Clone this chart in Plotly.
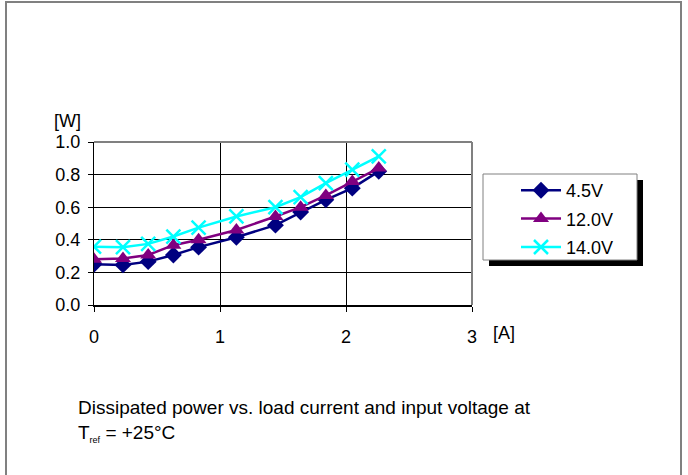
import plotly.graph_objects as go

W, H = 688, 475

current_a = [0, 0.23, 0.43, 0.63, 0.83, 1.13, 1.44, 1.64, 1.84, 2.05, 2.26]
p_4v5 = [0.25, 0.246, 0.266, 0.307, 0.355, 0.416, 0.49, 0.57, 0.645, 0.717, 0.82]
p_12v = [0.28, 0.285, 0.307, 0.367, 0.40, 0.46, 0.543, 0.60, 0.672, 0.758, 0.84]
p_14v = [0.358, 0.355, 0.375, 0.42, 0.475, 0.543, 0.60, 0.662, 0.748, 0.83, 0.912]
series_names = ["4.5V", "12.0V", "14.0V"]
x_ticks = [0, 1, 2, 3]
y_ticks = [0.0, 0.2, 0.4, 0.6, 0.8, 1.0]

FONT = "Liberation Sans, Arial, Helvetica, sans-serif"

def px(x):
    return x / W

def py(y):
    return 1 - y / H

fig = go.Figure()
fig.add_trace(go.Scatter(x=current_a, y=p_4v5, name=series_names[0], mode="lines+markers",
                         legendgroup="g1",
                         line=dict(color="#000080", width=2.5),
                         marker=dict(symbol="diamond", size=13, color="#000080")))
fig.add_trace(go.Scatter(x=current_a, y=p_12v, name=series_names[1], mode="lines+markers",
                         legendgroup="g2",
                         line=dict(color="#800080", width=2.5),
                         marker=dict(symbol="triangle-up", size=14, color="#800080")))
fig.add_trace(go.Scatter(x=current_a, y=p_14v, name=series_names[2], mode="lines+markers",
                         legendgroup="g3",
                         line=dict(color="#00FFFF", width=2.5),
                         marker=dict(symbol="x-thin", size=14, color="#00FFFF",
                                     line=dict(color="#00FFFF", width=2.5))))

x0p, x1p = 94, 472
y0p, y1p = 305, 142

fig.update_layout(
    width=W, height=H, autosize=False,
    margin=dict(l=0, r=0, t=0, b=0, autoexpand=False),
    paper_bgcolor="white", plot_bgcolor="white",
    font=dict(family=FONT, size=18, color="black"),
    xaxis=dict(domain=[px(x0p), px(x1p)], range=[0, 3], tickvals=x_ticks,
               showgrid=True, gridcolor="black", gridwidth=1, zeroline=False,
               showline=True, linecolor="black", linewidth=2, automargin=False,
               ticks="outside", ticklen=5, tickcolor="black", ticklabelstandoff=9,
               tickfont=dict(size=18)),
    yaxis=dict(domain=[py(y0p), py(y1p)], range=[0, 1], tickvals=y_ticks, tickformat=".1f",
               showgrid=True, gridcolor="black", gridwidth=1, zeroline=False,
               showline=True, linecolor="black", linewidth=1, automargin=False,
               ticks="outside", ticklen=5, tickcolor="black", ticklabelstandoff=4,
               tickfont=dict(size=18)),
    showlegend=True,
    legend=dict(x=px(516), y=py(172), xanchor="left", yanchor="top",
                bgcolor="rgba(0,0,0,0)", borderwidth=0,
                font=dict(size=18), tracegroupgap=2, itemwidth=40),
)

shapes = [
    # page border
    dict(type="rect", xref="paper", yref="paper", x0=px(6), x1=px(681), y0=py(520), y1=py(2),
         line=dict(color="#808080", width=2), fillcolor="rgba(0,0,0,0)", layer="below"),
    # plot frame top / right
    dict(type="line", xref="paper", yref="paper", x0=px(x0p), x1=px(x1p), y0=py(y1p), y1=py(y1p),
         line=dict(color="#808080", width=2)),
    dict(type="line", xref="paper", yref="paper", x0=px(x1p), x1=px(x1p), y0=py(y0p), y1=py(y1p),
         line=dict(color="#808080", width=2)),
    # legend shadow and box
    dict(type="rect", xref="paper", yref="paper", x0=px(489), x1=px(643), y0=py(266), y1=py(180),
         line=dict(width=0), fillcolor="black"),
    dict(type="rect", xref="paper", yref="paper", x0=px(483), x1=px(637), y0=py(260), y1=py(174),
         line=dict(color="#808080", width=1), fillcolor="white"),
]
fig.update_layout(shapes=shapes)

annotations = [
    dict(text="[W]", x=px(67), y=py(121), xref="paper", yref="paper", showarrow=False,
         xanchor="center", yanchor="middle", font=dict(size=18)),
    dict(text="[A]", x=px(504), y=py(333), xref="paper", yref="paper", showarrow=False,
         xanchor="center", yanchor="middle", font=dict(size=18)),
    dict(text="Dissipated power vs. load current and input voltage at<br>"
              "T<sub><span style='font-size:9px'>ref</span></sub> = +25°C",
         x=px(76), y=py(421), xref="paper", yref="paper", xanchor="left", yanchor="middle",
         align="left", showarrow=False, font=dict(size=19)),
]
fig.update_layout(annotations=annotations)

fig.write_html("out.html", config={"responsive": False, "displayModeBar": False},
               post_script="document.body.style.margin='0';document.body.style.overflow='hidden';")
